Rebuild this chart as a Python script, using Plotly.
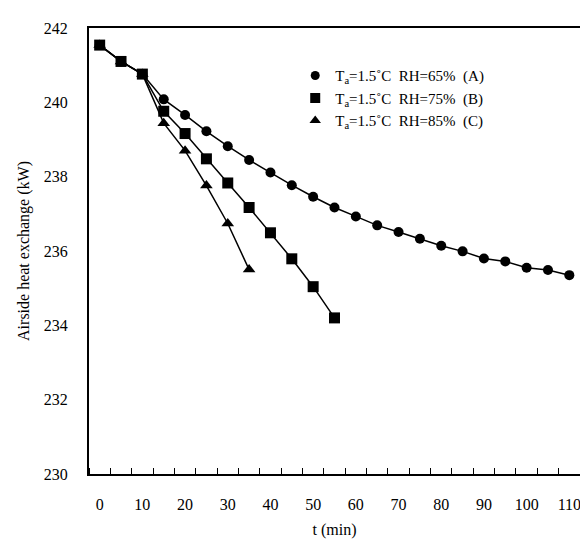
import plotly.graph_objects as go

t_a = [0, 5, 10, 15, 20, 25, 30, 35, 40, 45, 50, 55, 60, 65, 70, 75, 80, 85, 90, 95, 100, 105, 110]
q_a = [241.54, 241.10, 240.76, 240.08, 239.66, 239.22, 238.82, 238.45, 238.11, 237.77, 237.46,
       237.17, 236.93, 236.69, 236.51, 236.33, 236.14, 235.99, 235.80, 235.72, 235.55, 235.49, 235.35]
t_b = [0, 5, 10, 15, 20, 25, 30, 35, 40, 45, 50, 55]
q_b = [241.54, 241.10, 240.76, 239.76, 239.16, 238.48, 237.83, 237.17, 236.49, 235.79, 235.04, 234.20]
t_c = [0, 5, 10, 15, 20, 25, 30, 35]
q_c = [241.54, 241.10, 240.76, 239.44, 238.70, 237.76, 236.74, 235.50]

names = ["T<sub>a</sub>=1.5\u02daC\u00a0\u00a0RH=65%\u00a0\u00a0(A)",
         "T<sub>a</sub>=1.5\u02daC\u00a0\u00a0RH=75%\u00a0\u00a0(B)",
         "T<sub>a</sub>=1.5\u02daC\u00a0\u00a0RH=85%\u00a0\u00a0(C)"]
symbols = ["circle", "square", "triangle-up"]
sizes = [10, 11, 11]
x_ticks = [0, 10, 20, 30, 40, 50, 60, 70, 80, 90, 100, 110]

FONT = "Liberation Serif"
fig = go.Figure()
for t, q, sym, sz in zip([t_a, t_b, t_c], [q_a, q_b, q_c], symbols, sizes):
    fig.add_trace(go.Scatter(x=t, y=q, mode="lines+markers", showlegend=False,
                             line=dict(color="black", width=1.5),
                             marker=dict(symbol=sym, size=sz, color="black")))
for nm, sym, sz in zip(names, symbols, sizes):
    fig.add_trace(go.Scatter(x=[None], y=[None], mode="markers", name=nm,
                             marker=dict(symbol=sym, size=sz - 1, color="black")))

fig.update_layout(
    width=588, height=542,
    margin=dict(l=81, r=16, t=13, b=76),
    paper_bgcolor="white", plot_bgcolor="white",
    font=dict(family=FONT, size=16, color="black"),
    showlegend=True,
    legend=dict(x=0.42, y=0.93, xanchor="left", yanchor="top",
                font=dict(family=FONT, size=15, color="black"),
                bgcolor="rgba(0,0,0,0)"),
    xaxis=dict(range=[-2.5, 112.5], tickvals=x_ticks, ticks="", showgrid=False,
               zeroline=False, showline=True, linecolor="black", linewidth=2, mirror=True,
               ticklabelstandoff=15,
               minor=dict(tick0=-2.5, dtick=5, ticks="inside", ticklen=6,
                          tickcolor="black", tickwidth=1.2, showgrid=False),
               title=dict(text="t (min)", font=dict(family=FONT, size=16), standoff=12)),
    yaxis=dict(range=[230, 242], dtick=2, ticks="", showgrid=False, zeroline=False,
               showline=True, linecolor="black", linewidth=2, mirror=True,
               ticklabelstandoff=16,
               title=dict(text="Airside heat exchange (kW)", font=dict(family=FONT, size=16),
                          standoff=10)),
)
fig.write_html("out.html")
